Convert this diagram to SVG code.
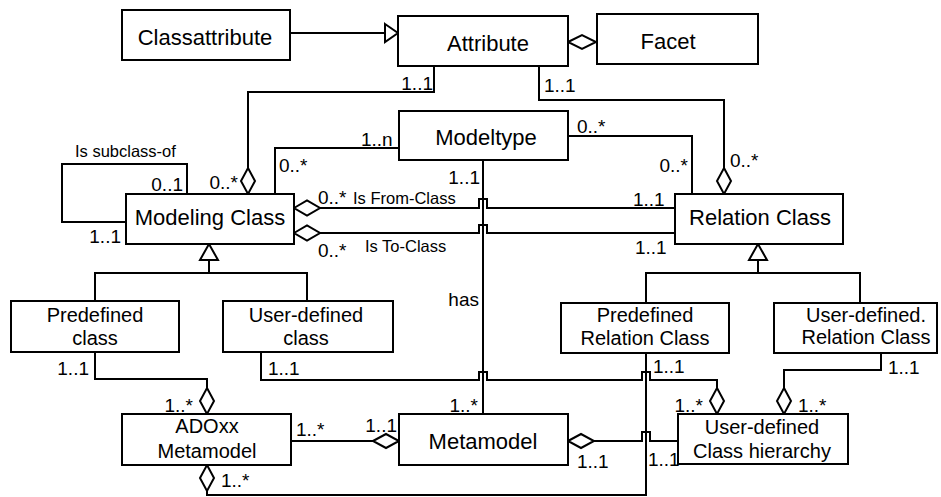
<svg xmlns="http://www.w3.org/2000/svg" width="941" height="497" viewBox="0 0 941 497">
<style>
.box{fill:#fff;stroke:#000;stroke-width:2}
.ln{fill:none;stroke:#000;stroke-width:2}
.dia{fill:#fff;stroke:#000;stroke-width:2}
.t{font-family:"Liberation Sans",Arial,sans-serif;fill:#000;text-anchor:middle}
.t1{font-size:22px}
.t2{font-size:20px}
.m{font-family:"Liberation Sans",Arial,sans-serif;font-size:19px;fill:#000}
.r{font-family:"Liberation Sans",Arial,sans-serif;font-size:16.5px;fill:#000}
.e{text-anchor:end}
</style>
<rect width="941" height="497" fill="#fff"/>
<g id="connectors">
<path class="ln" d="M290,33 H385"/>
<polygon class="dia" points="385,24 398,33 385,42"/>
<polygon class="dia" points="568,42 582,35 596,42 582,49"/>
<path class="ln" d="M434,66 V92 H248 V168"/>
<polygon class="dia" points="248,168 255,181 248,194 241,181"/>
<path class="ln" d="M539,66 V100 H724 V168"/>
<polygon class="dia" points="724,168 731,181 724,194 717,181"/>
<path class="ln" d="M399,148 H275 V194"/>
<path class="ln" d="M568,136 H692 V194"/>
<path class="ln" d="M483,160 V414"/>
<path class="ln" d="M187,194 V164 H62 V222 H126"/>
<polygon class="dia" points="294,208 307,200.5 320,208 307,215.5"/>
<path class="ln" d="M320,208 H479 V199 H487 V208 H675"/>
<polygon class="dia" points="294,233 307,225.5 320,233 307,240.5"/>
<path class="ln" d="M320,233 H479 V225 H487 V233 H675"/>
<polygon class="dia" points="209,244 218,260 200,260"/>
<path class="ln" d="M209,260 V273 M95,301 V273 H307 V301"/>
<polygon class="dia" points="758,244 767,260 749,260"/>
<path class="ln" d="M758,260 V273 M646,303 V273 H860 V303"/>
<path class="ln" d="M95,352 V379 H207 V388"/>
<polygon class="dia" points="207,388 214,401 207,414 200,401"/>
<path class="ln" d="M261,352 V380 H479 V372 H487 V380 H642 V372 H650 V380 H717 V388"/>
<polygon class="dia" points="717,388 724,401 717,414 710,401"/>
<path class="ln" d="M646,353 V495 H207 V491"/>
<polygon class="dia" points="207,465 214,478 207,491 200,478"/>
<path class="ln" d="M291,441 H373"/>
<polygon class="dia" points="373,441 386,434 399,441 386,448"/>
<polygon class="dia" points="568,441 581,434 594,441 581,448"/>
<path class="ln" d="M594,441 H642 V432 H650 V441 H678"/>
<path class="ln" d="M881,353 V370 H784 V388"/>
<polygon class="dia" points="784,388 791,401 784,414 777,401"/>
</g>
<g id="labels">
<text class="r" x="75" y="157">Is subclass-of</text>
<text class="m e" x="183" y="191">0..1</text>
<text class="m e" x="121" y="243">1..1</text>
<text class="m e" x="238" y="189">0..*</text>
<text class="m" x="279" y="172">0..*</text>
<text class="m e" x="433" y="90">1..1</text>
<text class="m" x="544" y="92">1..1</text>
<text class="m" x="361" y="146">1..n</text>
<text class="m" x="577" y="133">0..*</text>
<text class="m e" x="688" y="172">0..*</text>
<text class="m" x="730" y="167">0..*</text>
<text class="m e" x="480" y="184">1..1</text>
<text class="m" x="318" y="204">0..*</text>
<text class="r" x="353" y="204">Is From-Class</text>
<text class="m" x="318" y="257">0..*</text>
<text class="r" x="365" y="252">Is To-Class</text>
<text class="m" x="633" y="206">1..1</text>
<text class="m" x="635" y="254">1..1</text>
<text class="m e" x="479" y="306">has</text>
<text class="m e" x="89" y="375">1..1</text>
<text class="m" x="268" y="375">1..1</text>
<text class="m e" x="193" y="412">1..*</text>
<text class="m" x="221" y="487">1..*</text>
<text class="m" x="296" y="436">1..*</text>
<text class="m e" x="397" y="432">1..1</text>
<text class="m e" x="478" y="412">1..*</text>
<text class="m" x="577" y="468">1..1</text>
<text class="m" x="653" y="373">1..1</text>
<text class="m e" x="703" y="412">1..*</text>
<text class="m" x="798" y="412">1..*</text>
<text class="m" x="888" y="374">1..1</text>
<text class="m" x="648" y="466">1..1</text>
</g>
<g id="classattribute"><rect class="box" x="122" y="10" width="168" height="50"/><text class="t t1" x="205" y="45">Classattribute</text></g>
<g id="attribute"><rect class="box" x="398" y="16" width="170" height="50"/><text class="t t1" x="488" y="50.5">Attribute</text></g>
<g id="facet"><rect class="box" x="597" y="14" width="161" height="50"/><text class="t t1" x="668" y="49">Facet</text></g>
<g id="modeltype"><rect class="box" x="399" y="111" width="169" height="49"/><text class="t t1" x="486" y="145">Modeltype</text></g>
<g id="modeling-class"><rect class="box" x="126" y="194" width="168" height="50"/><text class="t t1" x="210" y="225">Modeling Class</text></g>
<g id="relation-class"><rect class="box" x="675" y="194" width="168" height="50"/><text class="t t1" x="760" y="225">Relation Class</text></g>
<g id="predefined-class"><rect class="box" x="11" y="301" width="168" height="51"/><text class="t t2" x="95" y="322">Predefined</text><text class="t t2" x="95" y="345">class</text></g>
<g id="user-defined-class"><rect class="box" x="223" y="301" width="170" height="51"/><text class="t t2" x="306" y="322">User-defined</text><text class="t t2" x="306" y="345">class</text></g>
<g id="predefined-relation-class"><rect class="box" x="561" y="303" width="168" height="50"/><text class="t t2" x="645" y="322">Predefined</text><text class="t t2" x="645" y="345">Relation Class</text></g>
<g id="user-defined-relation-class"><rect class="box" x="774" y="303" width="163" height="50"/><text class="t t2" x="866" y="322">User-defined.</text><text class="t t2" x="866" y="344">Relation Class</text></g>
<g id="adoxx-metamodel"><rect class="box" x="122" y="414" width="169" height="51"/><text class="t t2" x="207" y="433">ADOxx</text><text class="t t2" x="207" y="458">Metamodel</text></g>
<g id="metamodel"><rect class="box" x="399" y="414" width="169" height="51"/><text class="t t1" x="483" y="449">Metamodel</text></g>
<g id="user-defined-class-hierarchy"><rect class="box" x="678" y="414" width="170" height="50"/><text class="t t2" x="762" y="434">User-defined</text><text class="t t2" x="762" y="458">Class hierarchy</text></g>
</svg>
